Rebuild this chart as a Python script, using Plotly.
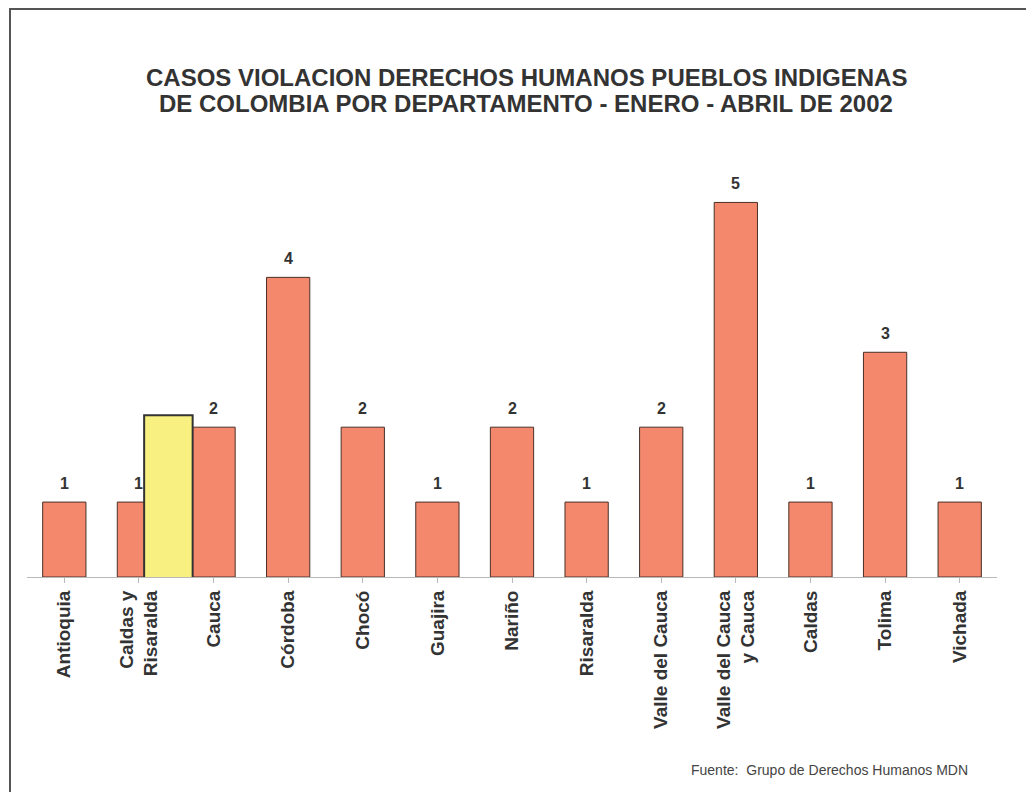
import plotly.graph_objects as go

categories = ["Antioquia", "Caldas y<br>Risaralda", "Cauca", "Córdoba", "Chocó", "Guajira",
              "Nariño", "Risaralda", "Valle del Cauca", "Valle del Cauca<br>y Cauca",
              "Caldas", "Tolima", "Vichada"]
casos = [1, 1, 2, 4, 2, 1, 2, 1, 2, 5, 1, 3, 1]

title_lines = ["CASOS VIOLACION DERECHOS HUMANOS PUEBLOS INDIGENAS",
               "DE COLOMBIA POR DEPARTAMENTO - ENERO - ABRIL DE 2002"]
source_text = "Fuente:  Grupo de Derechos Humanos MDN"

OFF = 8  # page body margin
W, H = 1034 - OFF, 792 - OFF
L, R, T, B = 27 - OFF, 37, 165 - OFF, 215
pw, ph = W - L - R, H - T - B
ymax = 5.5
FONT = "Liberation Sans, Arial"

def px_x(px):
    return (px - OFF - L) / pw

def px_y(py):
    return (H - B - (py - OFF)) / ph

fig = go.Figure()
fig.add_trace(go.Bar(
    x=list(range(len(categories))), y=casos,
    marker=dict(color="#F4886C", line=dict(color="#4a3028", width=1)),
    width=0.58,
    hovertext=[c.replace("<br>", " ") for c in categories],
))

# value labels above bars
for i, v in enumerate(casos):
    fig.add_annotation(x=i, y=v, text="<b>%d</b>" % v, showarrow=False,
                       yanchor="bottom", yshift=8,
                       font=dict(family=FONT, size=16, color="#333333"))

fig.update_layout(
    width=W, height=H,
    margin=dict(l=L, r=R, t=T, b=B),
    paper_bgcolor="#FFFFFF", plot_bgcolor="#FFFFFF",
    showlegend=False,
    font=dict(family=FONT, color="#333333"),
    xaxis=dict(
        tickmode="array", tickvals=list(range(len(categories))),
        ticktext=["<b>%s</b>" % c.replace("<br>", "</b><br><b>") for c in categories],
        range=[-0.5, len(categories) - 0.5],
        tickangle=-90, tickfont=dict(family=FONT, size=19, color="#333333"),
        showline=True, linecolor="#b8b8b8", linewidth=1,
        ticks="outside", ticklen=5, tickcolor="#b8b8b8", tickson="boundaries",
        showgrid=False, zeroline=False,
    ),
    yaxis=dict(range=[0, ymax], visible=False, showgrid=False, zeroline=False),
)

# title, two lines
for line, ypx in zip(title_lines, [77, 103]):
    fig.add_annotation(text="<b>%s</b>" % line, xref="paper", yref="paper",
                       x=px_x(526), y=px_y(ypx), xanchor="center", yanchor="middle",
                       showarrow=False,
                       font=dict(family=FONT, size=24, color="#333333"))

# yellow highlight box (present in the reference)
fig.add_shape(type="rect", xref="x", yref="y",
              x0=1.07, x1=1.72, y0=-0.07, y1=2.16,
              fillcolor="#F8F080", line=dict(color="#333333", width=2), layer="above")

# frame (left and top edges visible)
fig.add_shape(type="rect", xref="paper", yref="paper",
              x0=px_x(10), x1=px_x(1045), y0=px_y(805), y1=px_y(9),
              line=dict(color="#555555", width=2), fillcolor="rgba(0,0,0,0)")

fig.add_annotation(text=source_text, xref="paper", yref="paper",
                   x=px_x(970), y=px_y(770), xanchor="right", yanchor="middle",
                   showarrow=False,
                   font=dict(family=FONT, size=14, color="#444444"))

fig.write_html("out.html")
